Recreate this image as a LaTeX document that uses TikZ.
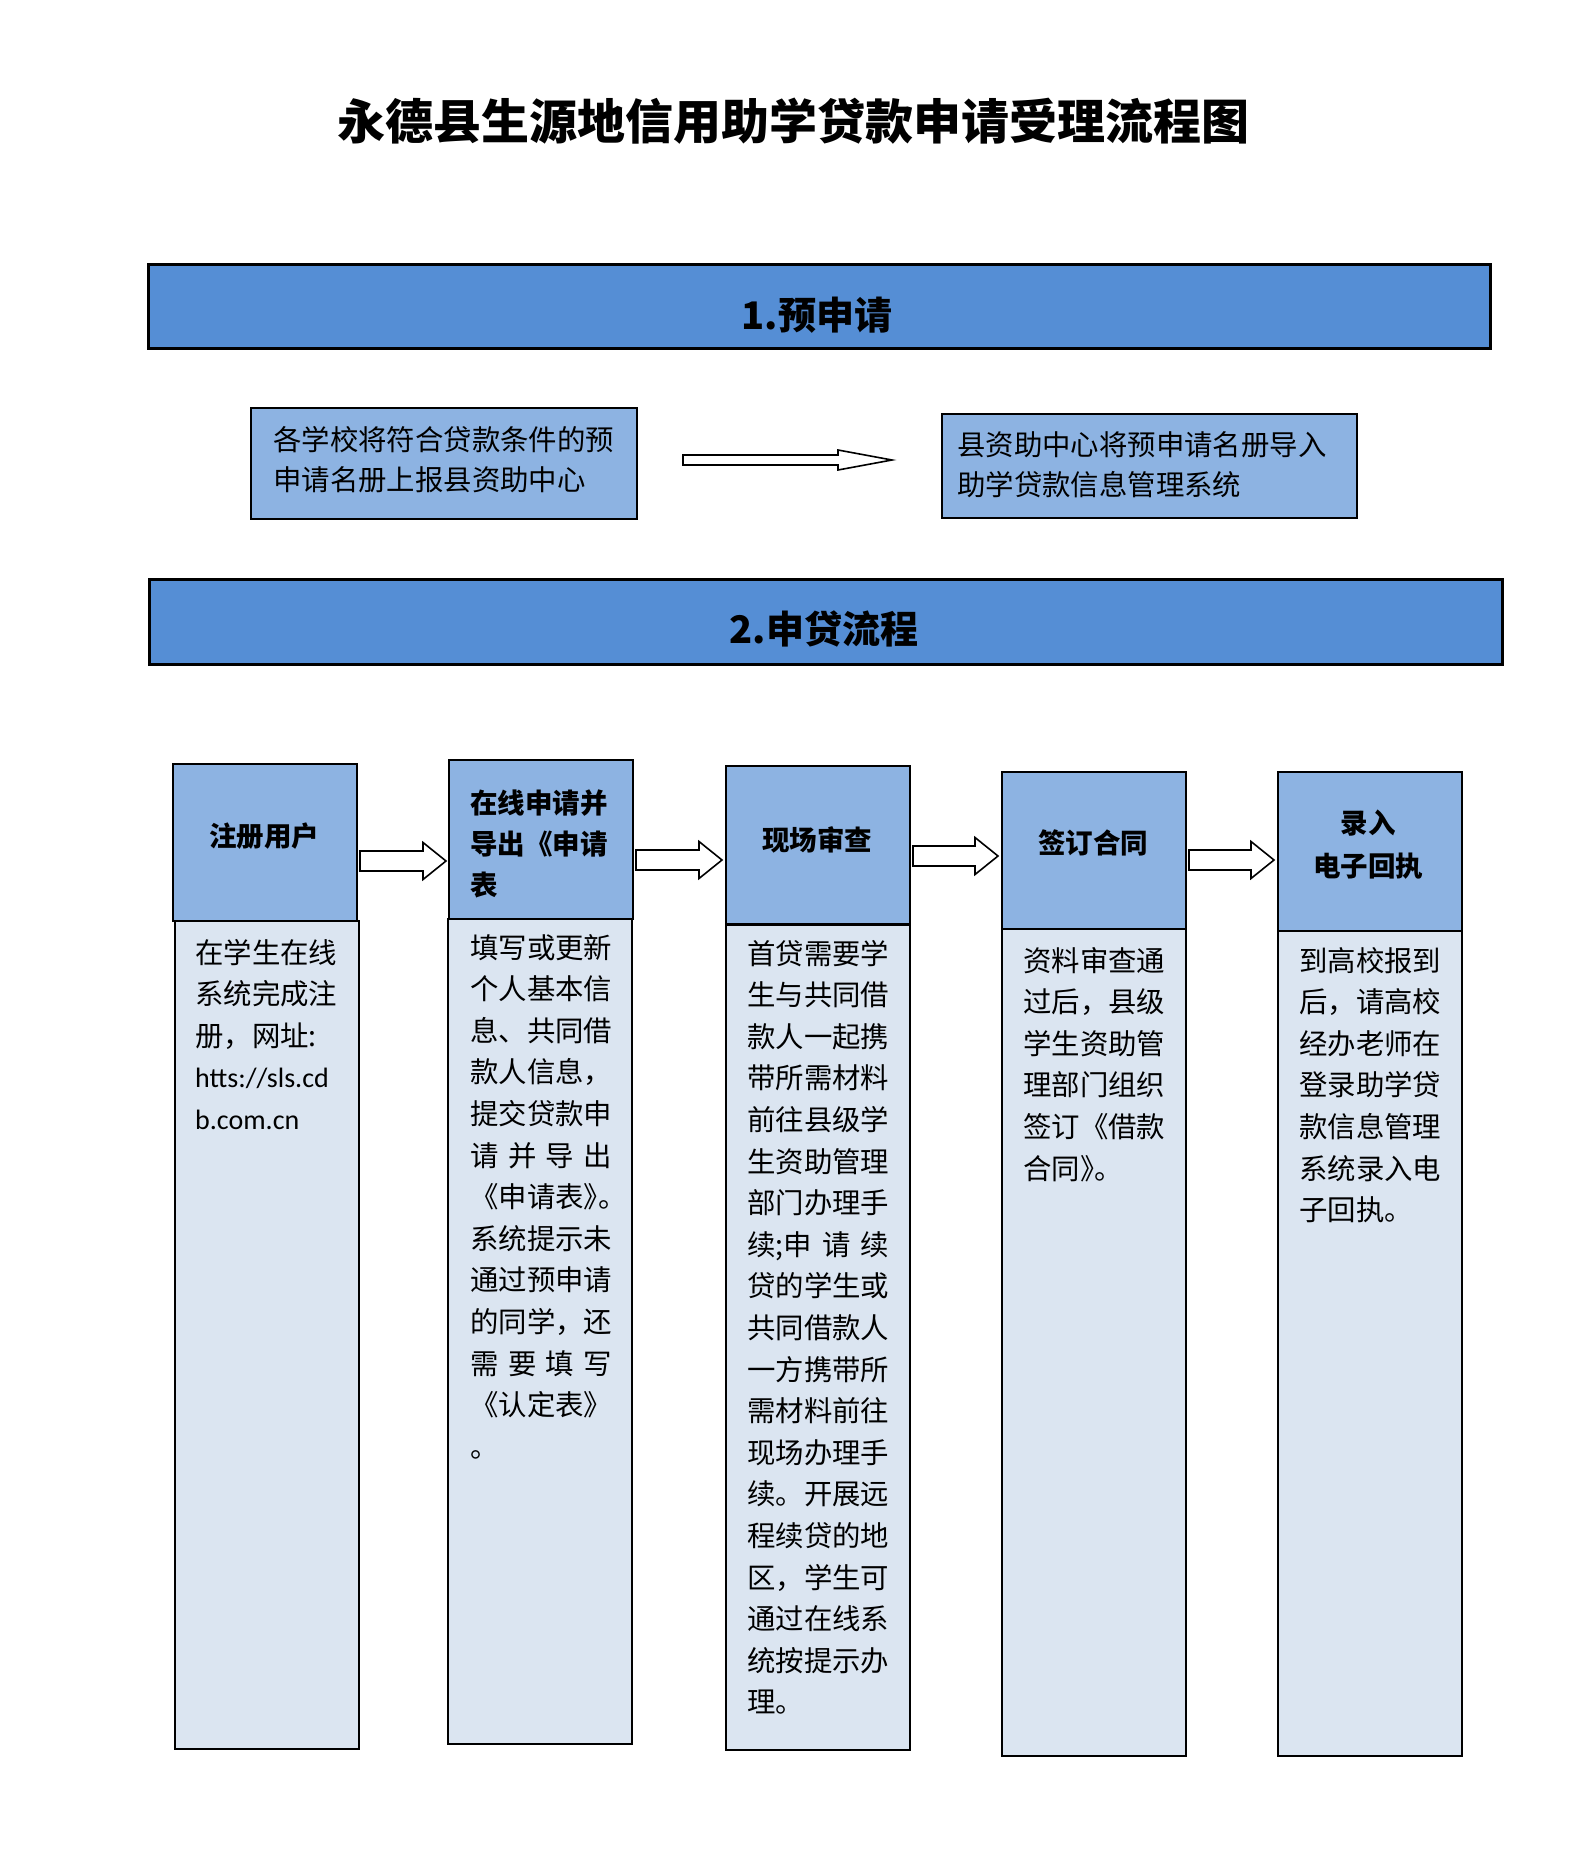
\documentclass[tikz,border=0pt]{standalone}
\usepackage{fontspec}
\setmainfont{Carlito}
\newfontfamily\cjk{Noto Sans CJK SC}
\newfontfamily\lat{Carlito}
\usetikzlibrary{calc}
\definecolor{bandblue}{HTML}{558ED5}
\definecolor{headblue}{HTML}{8DB3E2}
\definecolor{bodyblue}{HTML}{DBE5F1}
\tikzset{
  band/.style={draw=black, line width=2.5pt, fill=bandblue, anchor=north west, inner sep=0pt},
  prebox/.style={draw=black, line width=2pt, fill=headblue, anchor=north west, inner sep=0pt},
  headbox/.style={draw=black, line width=2pt, fill=headblue, anchor=north west, inner sep=0pt, minimum width=184pt},
  bodybox/.style={draw=black, line width=2pt, fill=bodyblue, anchor=north west, inner sep=0pt, minimum width=184pt},
  bodytext/.style={anchor=base west, inner sep=0pt, text width=150pt, align=left, font=\cjk\fontsize{28.4}{41.6}\selectfont},
  pretext/.style={anchor=base west, inner sep=0pt, text width=400pt, align=left, font=\cjk\fontsize{28.4}{40}\selectfont},
  headtext/.style={inner sep=0pt, font=\cjk\bfseries\fontsize{27.5}{41}\selectfont},
  bandtext/.style={inner sep=0pt, font=\cjk\bfseries\fontsize{38}{38}\selectfont},
  hollow/.style={draw=black, line width=1.6pt, fill=white, line join=miter},
}
\newcommand\blockarr[5]{%
  \draw[hollow] ($(#1)+(0,-#3)$) -- ($(#2)+(-#5,-#3)$) -- ($(#2)+(-#5,-#4)$) -- (#2)
    -- ($(#2)+(-#5,#4)$) -- ($(#2)+(-#5,#3)$) -- ($(#1)+(0,#3)$) -- cycle;}
\newcommand\jline[1]{\makebox[142pt][s]{#1}}
\begin{document}
\begin{tikzpicture}[x=1pt,y=-1pt]
\useasboundingbox[fill=white] (0,0) rectangle (1586,1854);

% title
\node[inner sep=0pt, font=\cjk\bfseries\fontsize{48}{48}\selectfont] (title) at (793,121) {永德县生源地信用助学贷款申请受理流程图};

% section 1
\node[band, minimum width=1342pt, minimum height=84pt] (band1) at (147,263) {};
\node[bandtext] (band1t) at (817,315) {1.预申请};

\node[prebox, minimum width=386pt, minimum height=111pt] (preA) at (250,407) {};
\node[pretext] (preAt) at (273,450) {各学校将符合贷款条件的预\\申请名册上报县资助中心};
\node[prebox, minimum width=415pt, minimum height=104pt] (preB) at (941,413) {};
\node[pretext] (preBt) at (957,455) {县资助中心将预申请名册导入\\助学贷款信息管理系统};
\coordinate (a0s) at (683,460);
\coordinate (a0e) at (892,460);
\blockarr{a0s}{a0e}{5}{10}{54}

% section 2
\node[band, minimum width=1353pt, minimum height=85pt] (band2) at (148,578) {};
\node[bandtext] (band2t) at (824,629) {2.申贷流程};

% columns: headers
\node[headbox, minimum height=157pt] (h1) at (172,763) {};
\node[headbox, minimum height=159pt] (h2) at (448,759) {};
\node[headbox, minimum height=158pt] (h3) at (725,765) {};
\node[headbox, minimum height=157pt] (h4) at (1001,771) {};
\node[headbox, minimum height=159pt] (h5) at (1277,771) {};
% columns: bodies
\node[bodybox, minimum height=828pt] (b1) at (174,920) {};
\node[bodybox, minimum height=825pt] (b2) at (447,918) {};
\node[bodybox, minimum height=825pt] (b3) at (725,924) {};
\node[bodybox, minimum height=827pt] (b4) at (1001,928) {};
\node[bodybox, minimum height=825pt] (b5) at (1277,930) {};

% header texts
\node[headtext] (h1t) at (264,836) {注册用户};
\node[headtext, anchor=base west, text width=150pt, align=left] (h2t) at (470,813) {在线申请并\\导出《申请\\表};
\node[headtext] (h3t) at (817,840) {现场审查};
\node[headtext] (h4t) at (1093,843) {签订合同};
\node[headtext, align=center, font=\cjk\bfseries\fontsize{27.5}{43}\selectfont] (h5t) at (1368,845) {录入\\电子回执};

% arrows between columns
\coordinate (a1s) at (360,861); \coordinate (a1e) at (446,861);
\coordinate (a2s) at (636,860); \coordinate (a2e) at (722,860);
\coordinate (a3s) at (913,856); \coordinate (a3e) at (998,856);
\coordinate (a4s) at (1189,860); \coordinate (a4e) at (1274,860);
\blockarr{a1s}{a1e}{10}{18.5}{23}
\blockarr{a2s}{a2e}{10}{18.5}{23}
\blockarr{a3s}{a3e}{10}{18.5}{23}
\blockarr{a4s}{a4e}{10}{18.5}{23}

% body texts
\node[bodytext] (b1t) at (195,963) {在学生在线\\系统完成注\\册，网址:\\{\lat\fontsize{28}{41.6}\selectfont htts://sls.cd}\\{\lat\fontsize{28}{41.6}\selectfont b.com.cn}};
\node[bodytext] (b2t) at (470,958) {填写或更新\\个人基本信\\息、共同借\\款人信息，\\提交贷款申\\\jline{请\hfill 并\hfill 导\hfill 出}\\《申请表》\kern-14pt。\\系统提示未\\通过预申请\\的同学，还\\\jline{需\hfill 要\hfill 填\hfill 写}\\《认定表》\\。};
\node[bodytext] (b3t) at (747,964) {首贷需要学\\生与共同借\\款人一起携\\带所需材料\\前往县级学\\生资助管理\\部门办理手\\\jline{续;申\hfill 请\hfill 续}\\贷的学生或\\共同借款人\\一方携带所\\需材料前往\\现场办理手\\续。开展远\\程续贷的地\\区，学生可\\通过在线系\\统按提示办\\理。};
\node[bodytext] (b4t) at (1023,971) {资料审查通\\过后，县级\\学生资助管\\理部门组织\\签订《借款\\合同》\kern-14pt。};
\node[bodytext] (b5t) at (1299,971) {到高校报到\\后，请高校\\经办老师在\\登录助学贷\\款信息管理\\系统录入电\\子回执。};
\end{tikzpicture}
\end{document}
